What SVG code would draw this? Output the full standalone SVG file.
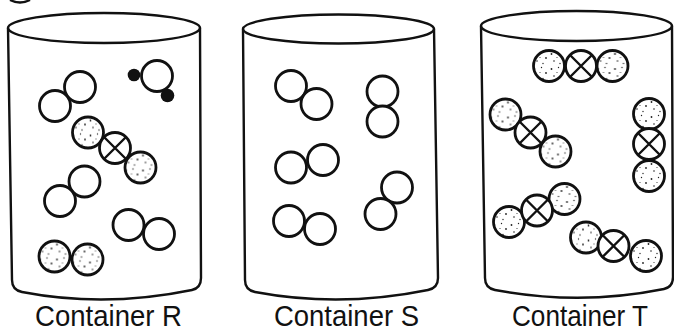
<svg xmlns="http://www.w3.org/2000/svg" xmlns:xlink="http://www.w3.org/1999/xlink" width="674" height="333" viewBox="0 0 674 333">
  <style>
    .wall { fill: none; stroke: #111; stroke-width: 2.4; stroke-linejoin: round; stroke-linecap: round; }
    .atom { stroke: #111; stroke-width: 2.8; }
    .plain { fill: #fff; }
    .dotted { fill: url(#stipple); }
    .cross { fill: none; stroke: #111; stroke-width: 2.4; }
    .label { font-family: "Liberation Sans", Arial, sans-serif; font-size: 30px; fill: #111; text-anchor: middle; }
  </style>
  <defs>
    <!-- sparse speckle used for the shaded atoms -->
    <pattern id="stipple" patternUnits="userSpaceOnUse" width="17" height="15">
      <rect width="17" height="15" fill="#fff"/>
      <circle cx="2.5" cy="3" r="0.9" fill="#222"/>
      <circle cx="9.5" cy="1.5" r="0.7" fill="#222"/>
      <circle cx="14" cy="7" r="0.9" fill="#222"/>
      <circle cx="5" cy="10" r="0.8" fill="#222"/>
      <circle cx="11" cy="12.5" r="0.7" fill="#222"/>
      <circle cx="8" cy="6.5" r="0.6" fill="#333"/>
    </pattern>
    <circle id="w" r="15.5" class="atom plain"/>
    <circle id="s" r="15.5" class="atom dotted"/>
    <g id="x">
      <circle r="15.5" class="atom plain"/>
      <path class="cross" d="M-11,-11 L11,11 M11,-11 L-11,11"/>
    </g>
  </defs>

  <rect width="674" height="333" fill="#fff"/>

  <!-- fragment of a mark cut off at the upper edge -->
  <path d="M10,0 Q20,5 30,0" fill="none" stroke="#111" stroke-width="2.4"/>

  <!-- Container R -->
  <g id="container-r">
    <ellipse class="wall" cx="104" cy="28" rx="96" ry="15"/>
    <path class="wall" d="M8,28 L12,280 Q12,290 22,292 Q105,308 192,290 Q201,288 201,278 L200,28"/>
    <g id="r-h2-a"><use href="#w" x="80" y="87"/><use href="#w" x="55" y="106"/></g>
    <g id="r-water">
      <circle class="atom plain" cx="157" cy="76" r="15.5"/>
      <circle cx="134" cy="75" r="6.3" fill="#111"/>
      <circle cx="167.5" cy="95.5" r="6.8" fill="#111"/>
    </g>
    <g id="r-co2"><use href="#s" x="88" y="132.5"/><use href="#s" x="140.5" y="167.5"/><use href="#x" x="115" y="148"/></g>
    <g id="r-h2-b"><use href="#w" x="84.5" y="181.5"/><use href="#w" x="60" y="201"/></g>
    <g id="r-h2-c"><use href="#w" x="128.5" y="225"/><use href="#w" x="159" y="234"/></g>
    <g id="r-s2"><use href="#s" x="54.5" y="256.5"/><use href="#s" x="87.5" y="259.5"/></g>
    <text class="label" x="108.5" y="326" textLength="147" lengthAdjust="spacingAndGlyphs">Container R</text>
  </g>

  <!-- Container S -->
  <g id="container-s">
    <ellipse class="wall" cx="338.5" cy="29" rx="95.5" ry="14.5"/>
    <path class="wall" d="M243,29 L245,280 Q245,290 255,292 Q340,308 428,290 Q438,288 438,278 L434,29"/>
    <g id="s-h2-a"><use href="#w" x="291" y="86"/><use href="#w" x="316.5" y="104"/></g>
    <g id="s-h2-b"><use href="#w" x="382.5" y="91.5"/><use href="#w" x="382.5" y="121.5"/></g>
    <g id="s-h2-c"><use href="#w" x="291" y="167.5"/><use href="#w" x="323" y="160"/></g>
    <g id="s-h2-d"><use href="#w" x="289" y="221"/><use href="#w" x="320" y="229"/></g>
    <g id="s-h2-e"><use href="#w" x="397" y="187.5"/><use href="#w" x="380.5" y="214"/></g>
    <text class="label" x="346.5" y="326" textLength="145" lengthAdjust="spacingAndGlyphs">Container S</text>
  </g>

  <!-- Container T -->
  <g id="container-t">
    <ellipse class="wall" cx="576.5" cy="26" rx="95.5" ry="15"/>
    <path class="wall" d="M481,26 L485,278 Q485,288 495,290 Q580,306 664,289 Q673,287 673,277 L672,26"/>
    <g id="t-co2-a"><use href="#s" x="549" y="66"/><use href="#s" x="612.5" y="66"/><use href="#x" x="581" y="66"/></g>
    <g id="t-co2-b"><use href="#s" x="505.5" y="114.5"/><use href="#s" x="555.5" y="151.5"/><use href="#x" x="530.5" y="132.5"/></g>
    <g id="t-co2-c"><use href="#s" x="649" y="114"/><use href="#s" x="649" y="176"/><use href="#x" x="649" y="144"/></g>
    <g id="t-co2-d"><use href="#s" x="509" y="222"/><use href="#s" x="564.5" y="199"/><use href="#x" x="537" y="210.5"/></g>
    <g id="t-co2-e"><use href="#s" x="586" y="237.5"/><use href="#s" x="646" y="256"/><use href="#x" x="613.5" y="246"/></g>
    <text class="label" x="580" y="326" textLength="136" lengthAdjust="spacingAndGlyphs">Container T</text>
  </g>
</svg>
